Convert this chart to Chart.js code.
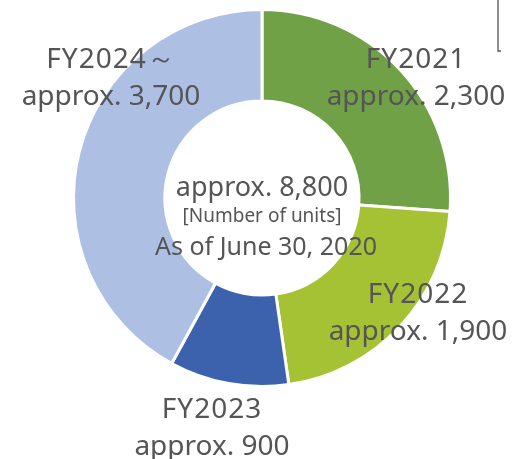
<!DOCTYPE html>
<html>
<head>
<meta charset="utf-8">
<script src="https://cdn.jsdelivr.net/npm/chart.js@4/dist/chart.umd.min.js"></script>
<style>
    html, body { margin: 0; padding: 0; background: #fff; }
    #wrap { width: 516px; height: 459px; }
</style>
</head>
<body>
<div id="wrap"><canvas id="UnitsChart" width="516" height="459"></canvas></div>
<script>
var years = ['FY2021', 'FY2022', 'FY2023', 'FY2024\uFF5E'];
var units = [2300, 1900, 900, 3700];
var unitTexts = ['approx. 2,300', 'approx. 1,900', 'approx. 900', 'approx. 3,700'];
var sliceColors = ['#70a146', '#a5c234', '#3c62ad', '#adc0e3'];

var totalText = 'approx. 8,800';
var unitNote = '[Number of units]';
var asOfText = 'As of June 30, 2020';

var textColor = '#555555';
var fontFamily = '"Noto Sans", "DejaVu Sans", sans-serif';

// where each outer label sits, relative to the doughnut centre
var labelOffsets = [
    { x: 154, y: -138 },
    { x: 156, y: 97 },
    { x: -50, y: 212 },
    { x: -151, y: -138 }
];

var labelsPlugin = {
    id: 'sliceLabels',
    afterDraw: function (chart) {
        var ctx = chart.ctx;
        var arc = chart.getDatasetMeta(0).data[0];
        var cx = arc.x, cy = arc.y;
        ctx.save();
        ctx.fillStyle = textColor;
        ctx.textAlign = 'center';
        ctx.textBaseline = 'middle';

        for (var i = 0; i < years.length; i++) {
            var o = labelOffsets[i];
            ctx.font = '28px ' + fontFamily;
            ctx.letterSpacing = '1px';
            ctx.fillText(years[i], cx + o.x, cy + o.y);
            ctx.letterSpacing = '0px';
            ctx.fillText(unitTexts[i], cx + o.x, cy + o.y + 37);
        }

        // centre text
        ctx.font = '27px ' + fontFamily;
        ctx.fillText(totalText, cx, cy - 10);
        ctx.font = '19px ' + fontFamily;
        ctx.fillText(unitNote, cx, cy + 19);
        ctx.font = '25px ' + fontFamily;
        ctx.fillText(asOfText, cx + 4, cy + 50);

        // small bracket line at top right
        ctx.strokeStyle = '#555';
        ctx.lineWidth = 1.3;
        ctx.beginPath();
        ctx.moveTo(498, 0);
        ctx.lineTo(498, 51);
        ctx.lineTo(501, 51);
        ctx.stroke();
        ctx.restore();
    }
};

var UnitsChart = new Chart(document.getElementById('UnitsChart'), {
    type: 'doughnut',
    data: {
        labels: years,
        datasets: [{
            data: units,
            backgroundColor: sliceColors,
            borderColor: '#ffffff',
            borderWidth: 3
        }]
    },
    options: {
        responsive: false,
        animation: false,
        cutout: '51.5%',
        layout: {
            padding: { top: 8, bottom: 71, left: 72, right: 64 }
        },
        plugins: {
            legend: { display: false },
            tooltip: { enabled: false }
        }
    },
    plugins: [labelsPlugin]
});
</script>
</body>
</html>
